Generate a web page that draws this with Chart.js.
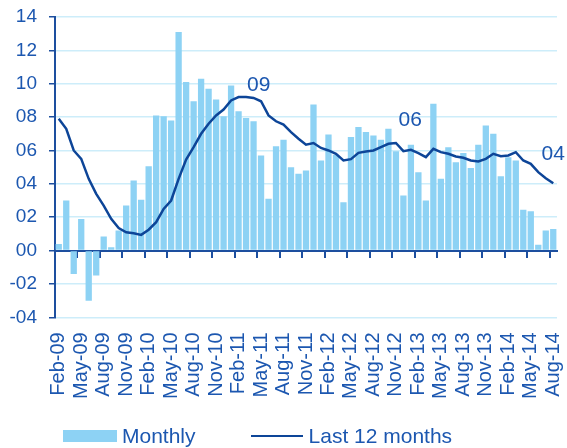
<!DOCTYPE html>
<html>
<head>
<meta charset="utf-8">
<script src="https://cdn.jsdelivr.net/npm/chart.js@4"></script>
<style>
  html, body { margin: 0; padding: 0; background: #fff; }
  #wrap { position: relative; width: 567px; height: 448px; }
  #legend { position: absolute; left: 63px; top: 423px; height: 26px; display: flex; align-items: center;
            font-family: "Liberation Sans", Arial, sans-serif; font-size: 21px; color: #1c57b0; }
  .sw-bar { width: 54px; height: 12px; background: #8dd2f4; margin-right: 5px; }
  .sw-line { width: 52px; height: 0; border-top: 2.5px solid #0d4598; margin-left: 55px; margin-right: 6px; }
</style>
</head>
<body>
<div id="wrap">
  <canvas id="chart"></canvas>
  <div id="legend">
    <span class="sw-bar"></span><span>Monthly</span>
    <span class="sw-line"></span><span>Last 12 months</span>
  </div>
</div>
<script>
const months = [
  'Feb-09', 'Mar-09', 'Apr-09', 'May-09', 'Jun-09', 'Jul-09', 'Aug-09', 'Sep-09', 'Oct-09', 'Nov-09', 'Dec-09', 'Jan-10',
  'Feb-10', 'Mar-10', 'Apr-10', 'May-10', 'Jun-10', 'Jul-10', 'Aug-10', 'Sep-10', 'Oct-10', 'Nov-10', 'Dec-10', 'Jan-11',
  'Feb-11', 'Mar-11', 'Apr-11', 'May-11', 'Jun-11', 'Jul-11', 'Aug-11', 'Sep-11', 'Oct-11', 'Nov-11', 'Dec-11', 'Jan-12',
  'Feb-12', 'Mar-12', 'Apr-12', 'May-12', 'Jun-12', 'Jul-12', 'Aug-12', 'Sep-12', 'Oct-12', 'Nov-12', 'Dec-12', 'Jan-13',
  'Feb-13', 'Mar-13', 'Apr-13', 'May-13', 'Jun-13', 'Jul-13', 'Aug-13', 'Sep-13', 'Oct-13', 'Nov-13', 'Dec-13', 'Jan-14',
  'Feb-14', 'Mar-14', 'Apr-14', 'May-14', 'Jun-14', 'Jul-14', 'Aug-14'
];

const monthly = [
  0.4, 3.0, -1.4, 1.9, -3.0, -1.5, 0.85, 0.2, 1.2, 2.7, 4.2, 3.05,
  5.05, 8.1, 8.05, 7.8, 13.1, 10.1, 8.95, 10.3, 9.7, 9.05, 8.05, 9.9,
  8.35, 7.95, 7.75, 5.7, 3.1, 6.25, 6.65, 5.0, 4.6, 4.8, 8.75, 5.4,
  6.95, 5.75, 2.9, 6.8, 7.4, 7.1, 6.9, 6.65, 7.3, 5.95, 3.3, 6.35,
  4.7, 3.0, 8.8, 4.3, 6.2, 5.3, 5.85, 4.95, 6.35, 7.5, 7.0, 4.45,
  5.6, 5.4, 2.45, 2.35, 0.35, 1.2, 1.3
];

const last12 = [
  7.9, 7.3, 6.0, 5.5, 4.3, 3.4, 2.7, 1.9, 1.35, 1.1, 1.04, 0.94,
  1.25, 1.7, 2.5, 3.0, 4.3, 5.45, 6.2, 7.0, 7.6, 8.1, 8.45, 9.0,
  9.2, 9.2, 9.15, 8.95, 8.1, 7.75, 7.55, 7.1, 6.7, 6.35, 6.45, 6.15,
  6.0, 5.8, 5.4, 5.48, 5.86, 5.94, 6.0, 6.2, 6.4, 6.45, 5.96, 6.04,
  5.84, 5.6, 6.1, 5.9, 5.8, 5.64, 5.56, 5.4, 5.34, 5.5, 5.8, 5.66,
  5.7, 5.9, 5.4, 5.2, 4.7, 4.34, 4.04
];

// text callouts on the 12 month line
const noteText = ['09', '06', '04'];
const noteAt = [26.7, 46.9, 66];
const noteValue = [9.9, 7.8, 5.8];

const textColor = '#1c57b0';
const axisColor = '#1d4f9f';
const gridColor = '#cdedfa';
const font = 'Liberation Sans, Arial, sans-serif';

const notesPlugin = {
  id: 'notes',
  afterDatasetsDraw(chart) {
    const { ctx, scales } = chart;
    ctx.save();
    ctx.fillStyle = textColor;
    ctx.font = '21px ' + font;
    ctx.textAlign = 'center';
    ctx.textBaseline = 'middle';
    noteText.forEach((t, i) => {
      ctx.fillText(t, scales.x.getPixelForValue(noteAt[i]), scales.y.getPixelForValue(noteValue[i]));
    });
    ctx.restore();
  }
};

new Chart(document.getElementById('chart'), {
  type: 'bar',
  data: {
    labels: months,
    datasets: [
      {
        type: 'line',
        label: 'Last 12 months',
        data: last12,
        borderColor: '#0d4598',
        borderWidth: 2.5,
        pointRadius: 0,
        tension: 0,
        order: 0
      },
      {
        label: 'Monthly',
        data: monthly,
        backgroundColor: '#8dd2f4',
        borderWidth: 0,
        barPercentage: 0.84,
        categoryPercentage: 1,
        order: 1
      }
    ]
  },
  options: {
    responsive: true,
    maintainAspectRatio: false,
    animation: false,
    layout: { padding: { left: 9, right: 10, top: 17, bottom: 42 } },
    plugins: {
      legend: { display: false },
      tooltip: { enabled: false }
    },
    scales: {
      x: {
        position: 'bottom',
        offset: true,
        grid: { display: false },
        border: { display: false },
        afterFit: (s) => { s.paddingLeft = 0; s.paddingRight = 0; },
        ticks: {
          autoSkip: false,
          minRotation: 90,
          maxRotation: 90,
          padding: 7,
          color: textColor,
          font: { family: font, size: 20 },
          callback: (v, i) => (i % 3 === 0 ? months[i] : '')
        }
      },
      x0: {
        type: 'category',
        labels: months,
        position: { y: 0 },
        offset: true,
        z: 1,
        grid: {
          drawOnChartArea: false,
          tickLength: 6,
          lineWidth: 2,
          color: (c) => (c.index % 3 === 0 ? axisColor : 'rgba(0,0,0,0)')
        },
        border: { color: axisColor, width: 2 },
        ticks: { display: false }
      },
      y: {
        min: -4,
        max: 14,
        afterFit: (s) => { s.width = 46; s.paddingTop = 0; s.paddingBottom = 0; },
        ticks: {
          stepSize: 2,
          padding: 12,
          color: textColor,
          font: { family: font, size: 19 },
          callback: (v) => (v < 0 ? '-' : '') + String(Math.abs(v)).padStart(2, '0')
        },
        grid: { color: gridColor, lineWidth: 1.5, tickColor: axisColor, tickLength: 6 },
        border: { color: axisColor, width: 2 }
      }
    }
  },
  plugins: [notesPlugin]
});
</script>
</body>
</html>
